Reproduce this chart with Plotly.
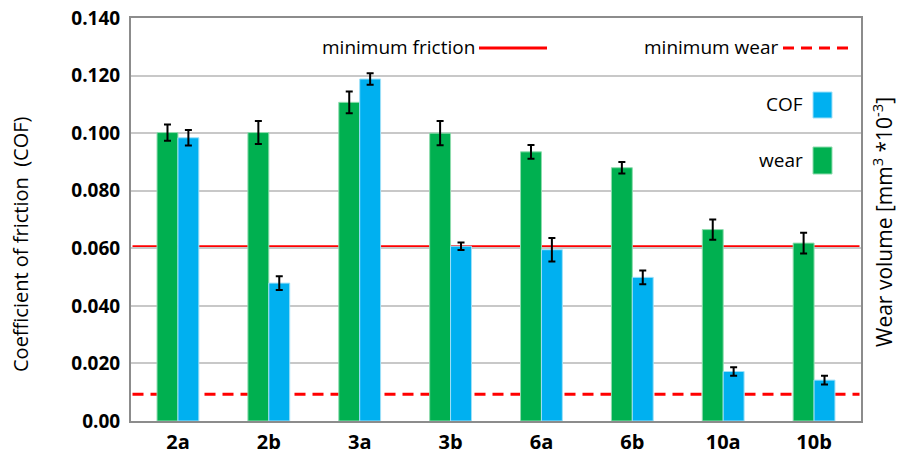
import plotly.graph_objects as go

# Samples and measured values
categories = ["2a", "2b", "3a", "3b", "6a", "6b", "10a", "10b"]
wear = [0.1002, 0.1002, 0.1107, 0.1000, 0.0935, 0.0880, 0.0665, 0.0618]
wear_err = [0.0028, 0.0040, 0.0038, 0.0042, 0.0024, 0.0020, 0.0035, 0.0036]
cof = [0.0984, 0.0479, 0.1188, 0.0607, 0.0595, 0.0499, 0.0172, 0.0142]
cof_err = [0.0027, 0.0024, 0.0020, 0.0013, 0.0041, 0.0024, 0.0015, 0.0015]

# Reference limits
min_friction = 0.0605
min_wear = 0.0093

# Axis ticks
y_tickvals = [0.0, 0.02, 0.04, 0.06, 0.08, 0.10, 0.12, 0.14]
y_ticktext = ["0.00", "0.020", "0.040", "0.060", "0.080", "0.100", "0.120", "0.140"]

GREEN = "#00B050"
BLUE = "#00B0F0"
RED = "#FF0000"
FONT = "Open Sans"
TXT = "#000000"

W, H = 898, 457
ML, MR, MT, MB = 131, 37, 18, 36
plot_w = W - ML - MR
plot_h = H - MT - MB


def px_x(v):
    return (v - ML) / plot_w


def px_y(v):
    return (H - v - MB) / plot_h


fig = go.Figure()
fig.add_trace(go.Bar(
    x=categories, y=wear, name="wear",
    marker=dict(color=GREEN, line=dict(color="#8fdcae", width=1)),
    error_y=dict(type="data", array=wear_err, color="black", thickness=2, width=3.5),
))
fig.add_trace(go.Bar(
    x=categories, y=cof, name="COF",
    marker=dict(color=BLUE, line=dict(color="#9fe0f8", width=1)),
    error_y=dict(type="data", array=cof_err, color="black", thickness=2, width=3.5),
))

# Limit lines, drawn underneath the bars
n = len(categories)
fig.add_shape(type="line", xref="x", yref="y", x0=-0.5, x1=n - 0.5,
              y0=min_friction, y1=min_friction,
              line=dict(color=RED, width=3), layer="below")
fig.add_shape(type="line", xref="x", yref="y", x0=-0.5, x1=n - 0.5,
              y0=min_wear, y1=min_wear,
              line=dict(color=RED, width=3, dash="11px,7px"), layer="below")

# Legend line samples and colour swatches
fig.add_shape(type="line", xref="paper", yref="paper", x0=px_x(479), x1=px_x(547),
              y0=px_y(48), y1=px_y(48), line=dict(color=RED, width=3))
fig.add_shape(type="line", xref="paper", yref="paper", x0=px_x(783), x1=px_x(852),
              y0=px_y(48), y1=px_y(48), line=dict(color=RED, width=3, dash="11px,7px"))
fig.add_shape(type="rect", xref="paper", yref="paper", x0=px_x(813), x1=px_x(832),
              y0=px_y(118), y1=px_y(92), fillcolor=BLUE, line=dict(color="#9fe0f8", width=1))
fig.add_shape(type="rect", xref="paper", yref="paper", x0=px_x(813), x1=px_x(832),
              y0=px_y(174), y1=px_y(147), fillcolor=GREEN, line=dict(color="#8fdcae", width=1))


def label(text, x, y, size=19, anchor="right", angle=0):
    return dict(text=text, x=px_x(x), y=px_y(y), xref="paper", yref="paper",
                showarrow=False, xanchor=anchor, yanchor="middle", textangle=angle,
                font=dict(family=FONT, size=size, color=TXT))


annotations = [
    label("minimum friction", 477, 47),
    label("minimum wear", 781, 47),
    label("COF", 805, 104),
    label("wear", 805, 160),
    label("Coefficient of friction  (COF)", 21, 244, size=20, anchor="center", angle=-90),
    label("Wear volume [mm<sup>3</sup> *10<sup>-3</sup>]", 882, 222, size=21,
          anchor="center", angle=-90),
]

fig.update_layout(
    width=W, height=H,
    margin=dict(l=ML, r=MR, t=MT, b=MB, autoexpand=False),
    paper_bgcolor="white", plot_bgcolor="rgba(0,0,0,0)",
    barmode="group", bargap=0.54, bargroupgap=0,
    showlegend=False,
    annotations=annotations,
)

fig.update_xaxes(
    showline=True, linecolor="#8c8c8c", linewidth=2, mirror=True,
    showgrid=False, ticks="",
    tickfont=dict(family=FONT, size=20, color=TXT, weight="bold"),
    ticklabelstandoff=2,
)
fig.update_yaxes(
    range=[0, 0.14], tickvals=y_tickvals, ticktext=y_ticktext,
    showline=True, linecolor="#8c8c8c", linewidth=2, mirror=True,
    showgrid=True, gridcolor="#c8c8c8", gridwidth=2,
    zeroline=False, ticks="",
    tickfont=dict(family=FONT, size=19, color=TXT, weight="bold"),
    ticklabelstandoff=5,
)

fig.write_html("out.html")
